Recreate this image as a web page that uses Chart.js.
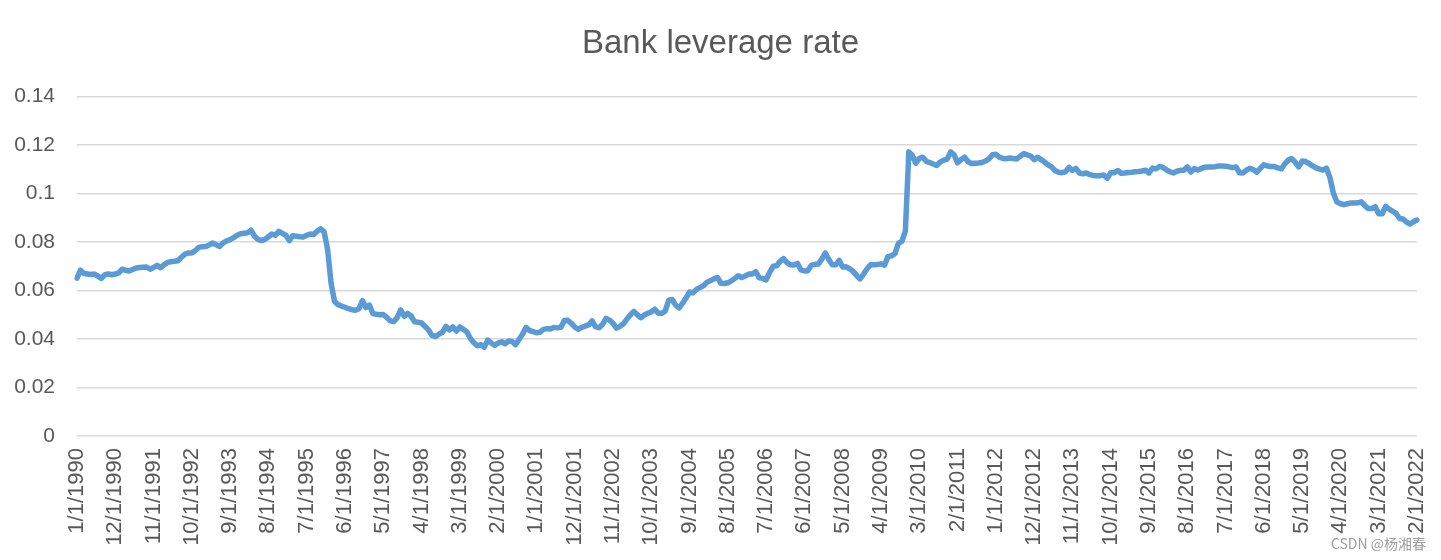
<!DOCTYPE html>
<html>
<head>
<meta charset="utf-8">
<title>Bank leverage rate</title>
<script src="https://cdn.jsdelivr.net/npm/chart.js@4.4.1/dist/chart.umd.min.js"></script>
<style>
  html, body { margin: 0; padding: 0; background: #fff; }
  .wrap { position: relative; width: 1441px; height: 560px; }
</style>
</head>
<body>
<div class="wrap"><canvas id="chart"></canvas></div>
<script>
const startYear = 1990;
const labelStep = 11; // one date label every 11 months

// monthly bank leverage rate, 1/1990 .. 2/2022, one row per year
const leverage = [
  0.0651, 0.0684, 0.0670, 0.0668, 0.0666, 0.0668, 0.0660, 0.0650, 0.0665, 0.0668, 0.0665, 0.0668, // 1990
  0.0673, 0.0688, 0.0683, 0.0681, 0.0687, 0.0693, 0.0695, 0.0696, 0.0697, 0.0688, 0.0695, 0.0704, // 1991
  0.0694, 0.0706, 0.0716, 0.0719, 0.0721, 0.0723, 0.0737, 0.0750, 0.0755, 0.0755, 0.0765, 0.0778, // 1992
  0.0781, 0.0782, 0.0788, 0.0796, 0.0789, 0.0782, 0.0797, 0.0805, 0.0810, 0.0818, 0.0828, 0.0834, // 1993
  0.0836, 0.0838, 0.0849, 0.0824, 0.0811, 0.0806, 0.0811, 0.0822, 0.0833, 0.0828, 0.0844, 0.0836, // 1994
  0.0828, 0.0806, 0.0826, 0.0824, 0.0822, 0.0821, 0.0828, 0.0833, 0.0831, 0.0845, 0.0855, 0.0842, // 1995
  0.0770, 0.0630, 0.0555, 0.0542, 0.0536, 0.0531, 0.0525, 0.0521, 0.0519, 0.0525, 0.0558, 0.0530, // 1996
  0.0540, 0.0505, 0.0502, 0.0500, 0.0501, 0.0489, 0.0475, 0.0472, 0.0488, 0.0520, 0.0494, 0.0506, // 1997
  0.0495, 0.0471, 0.0469, 0.0466, 0.0452, 0.0437, 0.0415, 0.0410, 0.0420, 0.0428, 0.0452, 0.0438, // 1998
  0.0450, 0.0433, 0.0450, 0.0440, 0.0430, 0.0403, 0.0385, 0.0372, 0.0377, 0.0366, 0.0395, 0.0384, // 1999
  0.0374, 0.0383, 0.0389, 0.0380, 0.0392, 0.0390, 0.0377, 0.0398, 0.0420, 0.0448, 0.0435, 0.0431, // 2000
  0.0426, 0.0428, 0.0440, 0.0443, 0.0441, 0.0448, 0.0446, 0.0448, 0.0476, 0.0477, 0.0465, 0.0450, // 2001
  0.0440, 0.0448, 0.0453, 0.0458, 0.0475, 0.0450, 0.0447, 0.0460, 0.0485, 0.0478, 0.0465, 0.0445, // 2002
  0.0452, 0.0463, 0.0482, 0.0500, 0.0514, 0.0500, 0.0488, 0.0499, 0.0506, 0.0512, 0.0523, 0.0506, // 2003
  0.0506, 0.0515, 0.0560, 0.0563, 0.0540, 0.0528, 0.0548, 0.0570, 0.0594, 0.0590, 0.0605, 0.0612, // 2004
  0.0620, 0.0634, 0.0641, 0.0648, 0.0654, 0.0630, 0.0629, 0.0632, 0.0640, 0.0650, 0.0661, 0.0654, // 2005
  0.0660, 0.0668, 0.0668, 0.0678, 0.0653, 0.0650, 0.0644, 0.0675, 0.0700, 0.0702, 0.0720, 0.0732, // 2006
  0.0715, 0.0706, 0.0705, 0.0712, 0.0685, 0.0681, 0.0682, 0.0705, 0.0708, 0.0709, 0.0730, 0.0755, // 2007
  0.0728, 0.0706, 0.0706, 0.0724, 0.0697, 0.0698, 0.0690, 0.0679, 0.0662, 0.0648, 0.0668, 0.0690, // 2008
  0.0706, 0.0706, 0.0707, 0.0710, 0.0705, 0.0740, 0.0743, 0.0752, 0.0795, 0.0803, 0.0845, 0.1172, // 2009
  0.1158, 0.1125, 0.1145, 0.1150, 0.1133, 0.1128, 0.1122, 0.1116, 0.1130, 0.1138, 0.1142, 0.1172, // 2010
  0.1160, 0.1127, 0.1140, 0.1150, 0.1132, 0.1124, 0.1125, 0.1126, 0.1128, 0.1134, 0.1143, 0.1160, // 2011
  0.1162, 0.1150, 0.1145, 0.1144, 0.1147, 0.1145, 0.1143, 0.1154, 0.1165, 0.1160, 0.1155, 0.1140, // 2012
  0.1150, 0.1140, 0.1130, 0.1118, 0.1110, 0.1095, 0.1088, 0.1086, 0.1090, 0.1108, 0.1095, 0.1104, // 2013
  0.1085, 0.1082, 0.1085, 0.1078, 0.1075, 0.1074, 0.1074, 0.1077, 0.1063, 0.1086, 0.1086, 0.1095, // 2014
  0.1084, 0.1085, 0.1087, 0.1088, 0.1090, 0.1091, 0.1093, 0.1096, 0.1085, 0.1105, 0.1102, 0.1112, // 2015
  0.1108, 0.1098, 0.1090, 0.1085, 0.1092, 0.1096, 0.1096, 0.1110, 0.1089, 0.1103, 0.1097, 0.1103, // 2016
  0.1109, 0.1110, 0.1110, 0.1111, 0.1114, 0.1114, 0.1113, 0.1110, 0.1107, 0.1110, 0.1086, 0.1085, // 2017
  0.1097, 0.1104, 0.1099, 0.1088, 0.1104, 0.1119, 0.1114, 0.1112, 0.1112, 0.1106, 0.1102, 0.1122, // 2018
  0.1138, 0.1144, 0.1130, 0.1110, 0.1134, 0.1132, 0.1124, 0.1114, 0.1106, 0.1101, 0.1097, 0.1105, // 2019
  0.1065, 0.1000, 0.0965, 0.0958, 0.0954, 0.0958, 0.0961, 0.0961, 0.0962, 0.0966, 0.0950, 0.0938, // 2020
  0.0938, 0.0946, 0.0917, 0.0917, 0.0947, 0.0936, 0.0927, 0.0918, 0.0897, 0.0895, 0.0882, 0.0874, // 2021
  0.0884, 0.0891                                                                                  // 2022
];

const months = leverage.map((v, i) => {
  const m = i % 12 + 1;
  const y = startYear + Math.floor(i / 12);
  return m + "/1/" + y;
});

const yMin = 0;
const yMax = 0.14;
const yStep = 0.02;

const textColor = "#595959";
const font = "'Liberation Sans', Arial, sans-serif";

const watermark = {
  id: "watermark",
  afterDraw(chart) {
    const ctx = chart.ctx;
    ctx.save();
    ctx.font = "14px 'Noto Sans CJK SC', sans-serif";
    ctx.textAlign = "right";
    ctx.textBaseline = "middle";
    ctx.fillStyle = "rgba(140,140,140,0.85)";
    ctx.fillText("CSDN @杨湘春", 1426, 544);
    ctx.restore();
  }
};

new Chart(document.getElementById("chart"), {
  type: "line",
  data: {
    labels: months,
    datasets: [{
      label: "Bank leverage rate",
      data: leverage,
      borderColor: "#5B9BD5",
      borderWidth: 5.5,
      pointRadius: 0,
      tension: 0,
      borderJoinStyle: "round",
      borderCapStyle: "round",
      fill: false
    }]
  },
  options: {
    responsive: true,
    maintainAspectRatio: false,
    animation: false,
    layout: { padding: 0 },
    plugins: {
      legend: { display: false },
      tooltip: { enabled: false },
      title: {
        display: true,
        text: "Bank leverage rate",
        color: textColor,
        font: { family: font, size: 33, weight: "normal" },
        padding: { top: 24, bottom: 33 }
      }
    },
    scales: {
      x: {
        grid: { display: false, drawTicks: false },
        border: { display: false },
        ticks: {
          autoSkip: false,
          minRotation: 90,
          maxRotation: 90,
          padding: 12,
          color: textColor,
          font: { family: font, size: 22 },
          callback: function (val, idx) {
            return idx % labelStep === 0 ? months[idx] : null;
          }
        },
        afterFit(scale) {
          scale.height = 124;
          scale.paddingLeft = 0;
          scale.paddingRight = 24;
        }
      },
      y: {
        min: yMin,
        max: yMax,
        grid: { color: "#d9d9d9", lineWidth: 1.5, drawTicks: false },
        border: { display: false },
        ticks: {
          stepSize: yStep,
          padding: 22,
          color: textColor,
          font: { family: font, size: 21 },
          callback: v => String(+v.toFixed(2))
        },
        afterFit(scale) { scale.width = 77; }
      }
    }
  },
  plugins: [watermark]
});
</script>
</body>
</html>
